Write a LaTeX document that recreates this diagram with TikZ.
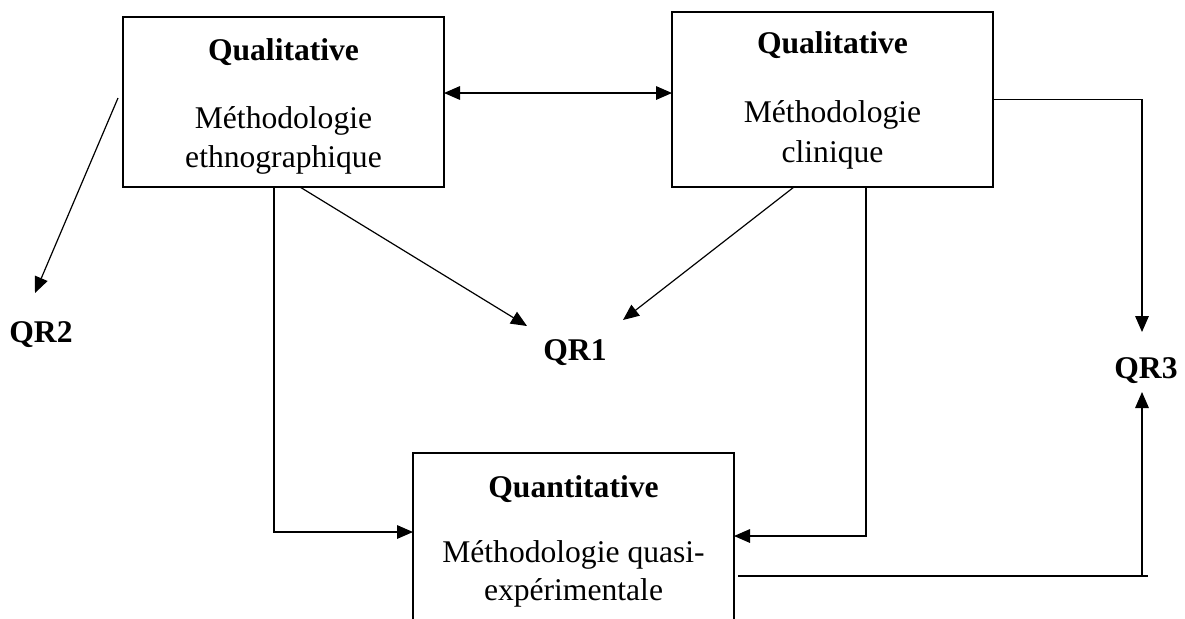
\documentclass[tikz,border=0pt]{standalone}
\usepackage{fontspec}
\setmainfont{Liberation Serif}
\usetikzlibrary{arrows.meta,calc}
\begin{document}
\begin{tikzpicture}[x=0.5pt,y=-0.5pt,
  box/.style={draw,line width=1pt,minimum width=160.5pt,inner sep=0pt,outer sep=0pt},
  txt/.style={inner sep=0pt,anchor=base,font=\fontsize{15.8}{19}\selectfont},
  head/.style={inner sep=0pt,anchor=base,font=\fontsize{15.8}{19}\selectfont\bfseries},
  link/.style={line width=0.6pt},
  tip/.tip={Triangle[length=8pt,width=6.8pt]},
  arr/.style={link,-tip},
  dbl/.style={link,tip-tip}]

\useasboundingbox (0,0) rectangle (1185,618);
\clip (0,0) rectangle (1185,618);

% method boxes
\node[box,minimum height=85pt]   (b1) at (283.5,102)   {};
\node[box,minimum height=87.5pt] (b2) at (832.5,99.5)  {};
\node[box,minimum height=93.5pt] (b3) at (573.5,546.5) {};

% box texts
\node[head] (b1h) at (283.5,60)  {Qualitative};
\node[txt]  (b1a) at (283.5,128) {Méthodologie};
\node[txt]  (b1b) at (283.5,167) {ethnographique};

\node[head] (b2h) at (832.5,53)  {Qualitative};
\node[txt]  (b2a) at (832.5,122) {Méthodologie};
\node[txt]  (b2b) at (832.5,162) {clinique};

\node[head] (b3h) at (573.5,497) {Quantitative};
\node[txt]  (b3a) at (573.5,562) {Méthodologie quasi-};
\node[txt]  (b3b) at (573.5,600) {expérimentale};

% research questions
\node[head] (q1) at (575,360)  {QR1};
\node[head] (q2) at (41,342)   {QR2};
\node[head] (q3) at (1146,378) {QR3};

% arrow end points near the labels
\coordinate (q1l) at (527,326);
\coordinate (q1r) at (623,320);
\coordinate (q2t) at (35,293);
\coordinate (q3t) at (1142,332);
\coordinate (q3b) at (1142,392);
\coordinate (c3)  at (1148,576);

% connectors
\draw[dbl] ($(b1.east)+(0,-9)$) -- ($(b2.west)+(0,-6.5)$);
\draw[arr] ($(b1.west)+(-5,-4)$) -- (q2t);
\draw[arr] ($(b1.south)+(16.5,0)$) -- (q1l);
\draw[arr] ($(b2.south)+(-38.5,0)$) -- (q1r);
\draw[arr] ($(b1.south)+(-9.5,0)$) |- ($(b3.north west)+(0,79)$);
\draw[arr] ($(b2.south)+(33.5,0)$) |- ($(b3.north east)+(0,83)$);
\draw[arr] (b2.east) -| (q3t);
\draw[link] ($(b3.east |- c3)+(4,0)$) -- (c3);
\draw[arr] (c3 -| q3b) -- (q3b);

\end{tikzpicture}
\end{document}
